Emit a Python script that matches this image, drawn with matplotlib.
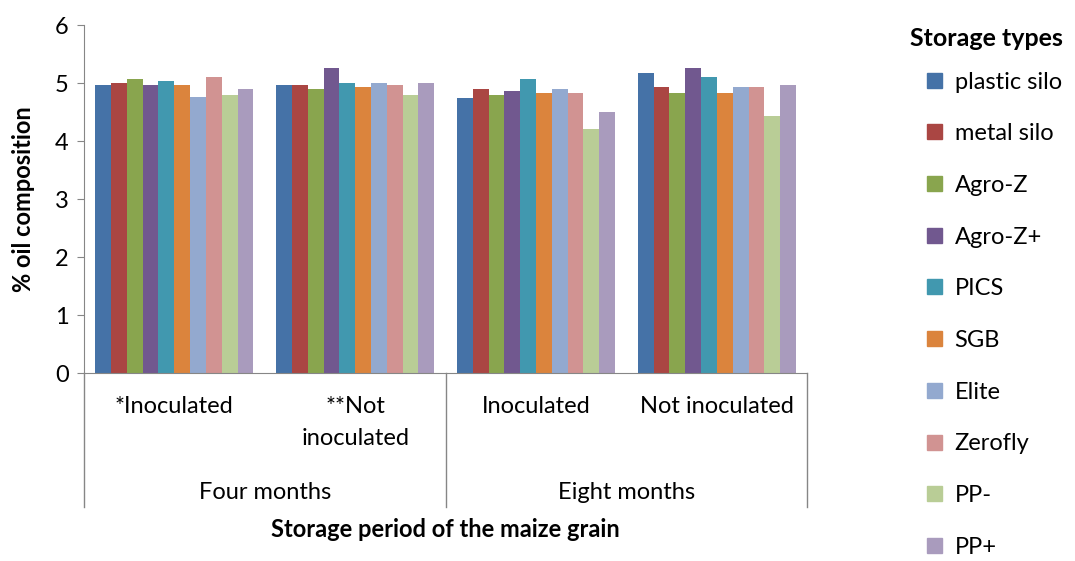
import numpy as np
import matplotlib.pyplot as plt
from matplotlib.patches import Patch
from matplotlib.transforms import blended_transform_factory

plt.rcParams['font.family'] = ['Lato', 'DejaVu Sans']

# Storage types (series) and the four sub-categories
storage_types = ['plastic silo', 'metal silo', 'Agro-Z', 'Agro-Z+', 'PICS',
                 'SGB', 'Elite', 'Zerofly', 'PP-', 'PP+']
sub_labels = ['*Inoculated', '**Not\ninoculated', 'Inoculated', 'Not inoculated']
periods = ['Four months', 'Eight months']

# % oil composition, one list per sub-category (order of storage_types)
four_inoc = [4.97, 5.00, 5.07, 4.97, 5.03, 4.97, 4.77, 5.10, 4.80, 4.90]
four_not = [4.97, 4.97, 4.90, 5.27, 5.00, 4.93, 5.00, 4.97, 4.80, 5.00]
eight_inoc = [4.74, 4.90, 4.80, 4.87, 5.07, 4.83, 4.90, 4.83, 4.21, 4.50]
eight_not = [5.17, 4.94, 4.83, 5.27, 5.10, 4.83, 4.94, 4.94, 4.43, 4.97]

colors = ['#4572A7', '#AA4643', '#89A54E', '#71588F', '#4198AF',
          '#DB843D', '#93A9CF', '#D19392', '#B9CD96', '#A99BBD']

values = np.array([four_inoc, four_not, eight_inoc, eight_not])
fs = 17

fig = plt.figure(figsize=(10.75, 5.61), dpi=100)
ax = fig.add_axes([0.078, 0.335, 0.673, 0.62])

x = np.arange(len(sub_labels))
width = 0.0875
for i, name in enumerate(storage_types):
    offs = (i - 4.5) * width
    ax.bar(x + offs, values[:, i], width, color=colors[i], label=name)

ax.set_xlim(-0.5, 3.5)
ax.set_ylim(0, 6)
ax.set_yticks(range(7))
ax.tick_params(axis='y', labelsize=fs, length=5, color='#868686', pad=6)
ax.set_xticks([])
for s in ['top', 'right']:
    ax.spines[s].set_visible(False)
for s in ['left', 'bottom']:
    ax.spines[s].set_color('#868686')

ax.set_ylabel('% oil composition', fontsize=fs, fontweight='bold', labelpad=14)

tr = blended_transform_factory(ax.transData, ax.transAxes)
for xi, lab in zip(x, sub_labels):
    ax.text(xi, -0.065, lab, transform=tr, ha='center', va='top',
            fontsize=fs, linespacing=1.65)
for k, p in enumerate(periods):
    ax.text(2 * k + 0.5, -0.342, p, transform=tr, ha='center', va='center',
            fontsize=fs)
for xs in [-0.5, 1.5, 3.5]:
    ax.plot([xs, xs], [0, -0.385], transform=tr, color='#868686',
            lw=1, clip_on=False)
ax.text(1.5, -0.451, 'Storage period of the maize grain', transform=tr,
        ha='center', va='center', fontsize=fs, fontweight='bold')

handles = [Patch(color=c) for c in colors]
fig.legend(handles, storage_types, loc='upper left',
           bbox_to_anchor=(0.8474, 0.902), frameon=False, fontsize=fs,
           handlelength=0.6, handleheight=0.6,
           labelspacing=1.30, handletextpad=0.55, borderpad=0.2)
fig.text(0.918, 1 - 38 / 561, 'Storage types', ha='center', va='center',
         fontsize=18, fontweight='bold')

fig.savefig('out.png', dpi=100)
